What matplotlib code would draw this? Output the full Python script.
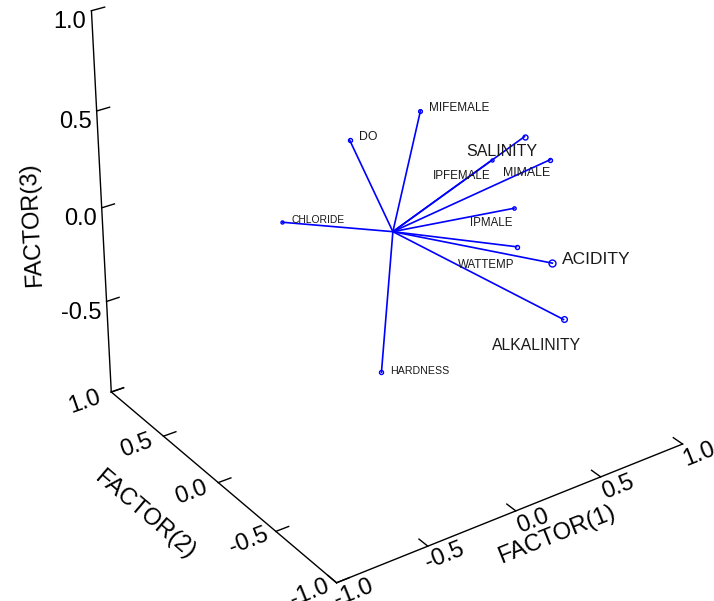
import math
import matplotlib
matplotlib.use("Agg")
import matplotlib.pyplot as plt
from mpl_toolkits.mplot3d import proj3d

# Rotated factor loadings (three factors) for each measured variable
variables = ["MIFEMALE", "DO", "SALINITY", "IPFEMALE", "MIMALE", "IPMALE",
             "WATTEMP", "ACIDITY", "ALKALINITY", "CHLORIDE", "HARDNESS"]
factor1 = [0.34, -0.04, 0.53, 0.59, 0.71, 0.63, 0.49, 0.37, 0.43, -0.24, -0.17]
factor2 = [0.26, 0.30, -0.31, 0.02, -0.28, -0.11, -0.32, -0.75, -0.77, 0.59, -0.15]
factor3 = [0.42, 0.36, 0.46, 0.19, 0.28, -0.02, -0.09, 0.05, -0.25, -0.13, -0.62]

axis_ticks = [-1.0, -0.5, 0.0, 0.5, 1.0]
tick_labels = ["-1.0", "-0.5", "0.0", "0.5", "1.0"]

# Per-variable styling: symbol size / label size shrink with depth
marker_sizes = [2.7, 2.9, 3.6, 2.2, 2.9, 2.4, 2.9, 5.0, 4.1, 2.2, 2.9]
label_sizes = [8.5, 8.8, 11.5, 8.4, 8.9, 8.3, 8.3, 12.5, 11.3, 7.4, 7.7]
# Label offsets (points) relative to each symbol, with the horizontal anchor used
label_offsets = [(6.5, 2.0), (6.5, 2.0), (-16, -10.9), (-21.6, -11.5), (-17, -9.5),
                 (-16, -10.5), (-22, -13.5), (7, 2.5), (-19.4, -18.8), (6.5, 1.5), (6.5, 1.0)]
label_align = ["left", "left", "center", "center", "center", "center",
               "center", "left", "center", "left", "left"]

LINE_BLUE = "#0000ff"
LABEL_FONT = ["Liberation Sans Narrow", "Liberation Sans", "DejaVu Sans"]
AXIS_FONT = ["Liberation Sans", "DejaVu Sans"]

fig = plt.figure(figsize=(7.14, 6.01), dpi=100)
fig.patch.set_facecolor("white")
ax = fig.add_axes([0.047, 0.0163, 0.98, 1.165], projection="3d")
ax.set_proj_type("persp", focal_length=0.8)
ax.view_init(elev=28.5, azim=-125)
ax.set_box_aspect((1.07, 1.06, 1.10), zoom=1.03)
ax.set_xlim(-1, 1)
ax.set_ylim(-1, 1)
ax.set_zlim(-1, 1)
ax.set_axis_off()
ax.apply_aspect()
M = ax.get_proj()


def to2d(p):
    x2, y2, _ = proj3d.proj_transform(p[0], p[1], p[2], M)
    return float(x2), float(y2)


def screen_angle(p, d):
    """Screen angle (degrees) of the 3D direction d seen at point p."""
    a = ax.transData.transform(to2d(p))
    b = ax.transData.transform(to2d((p[0] + 0.1 * d[0], p[1] + 0.1 * d[1], p[2] + 0.1 * d[2])))
    return math.degrees(math.atan2(b[1] - a[1], b[0] - a[0]))


def label(p, s, dx, dy, direction=None, **kw):
    rot = screen_angle(p, direction) if direction is not None else 0.0
    ax.annotate(s, xy=to2d(p), xytext=(dx, dy), textcoords="offset points",
                rotation=rot, rotation_mode="anchor", annotation_clip=False, **kw)


# Frame: FACTOR(1) and FACTOR(2) along the floor, FACTOR(3) at the back corner
ax.plot([-1, 1], [-1, -1], [-1, -1], color="black", lw=1.0, clip_on=False)
ax.plot([-1, -1], [-1, 1], [-1, -1], color="black", lw=1.0, clip_on=False)
ax.plot([-1, -1], [1, 1], [-1, 1], color="black", lw=1.0, clip_on=False)

tick_len = 0.07
tick_font = dict(fontsize=17, family=AXIS_FONT, ha="center", va="center")
for t, lab in zip(axis_ticks, tick_labels):
    # FACTOR(1) ticks point towards +FACTOR(2)
    ax.plot([t, t], [-1, -1 + tick_len], [-1, -1], color="black", lw=1.0, clip_on=False)
    label((t, -1, -1), lab, 12.2, -7.2, direction=(1, 0, 0), **tick_font)
    # FACTOR(2) ticks point towards +FACTOR(1)
    ax.plot([-1, -1 + tick_len], [t, t], [-1, -1], color="black", lw=1.0, clip_on=False)
    label((-1, t, -1), lab, -19.4, -7.2, direction=(1, 0, 0), **tick_font)
    # FACTOR(3) ticks point towards +FACTOR(1)
    ax.plot([-1, -1 + tick_len], [1, 1], [t, t], color="black", lw=1.0, clip_on=False)
    if t > -1:
        label((-1, 1, t), lab, -3.6, -8.0, fontsize=17, family=AXIS_FONT,
              ha="right", va="center")

title_font = dict(fontsize=17, family=AXIS_FONT, ha="center", va="center")
label((0.2, -1, -1), "FACTOR(1)", 5, -27, direction=(1, 0, 0), **title_font)
label((-1, 0.2, -1), "FACTOR(2)", -37, -37, direction=(0, -1, 0), **title_font)
label((-1, 1, 0), "FACTOR(3)", -50, -12, direction=(0, 0, 1), **title_font)

# Loading vectors from the origin
for name, x, y, z, ms, fs, off, al in zip(variables, factor1, factor2, factor3,
                                          marker_sizes, label_sizes, label_offsets, label_align):
    ax.plot([0, x], [0, y], [0, z], color=LINE_BLUE, lw=1.2, clip_on=False)
    ax.plot([x], [y], [z], marker="o", ms=ms, mfc="none", mec=LINE_BLUE, mew=1.0,
            clip_on=False)
    label((x, y, z), name, off[0], off[1], fontsize=fs, family=LABEL_FONT,
          color="#1a1a1a", ha=al, va="center")

fig.savefig("out.png", dpi=100, facecolor="white")
